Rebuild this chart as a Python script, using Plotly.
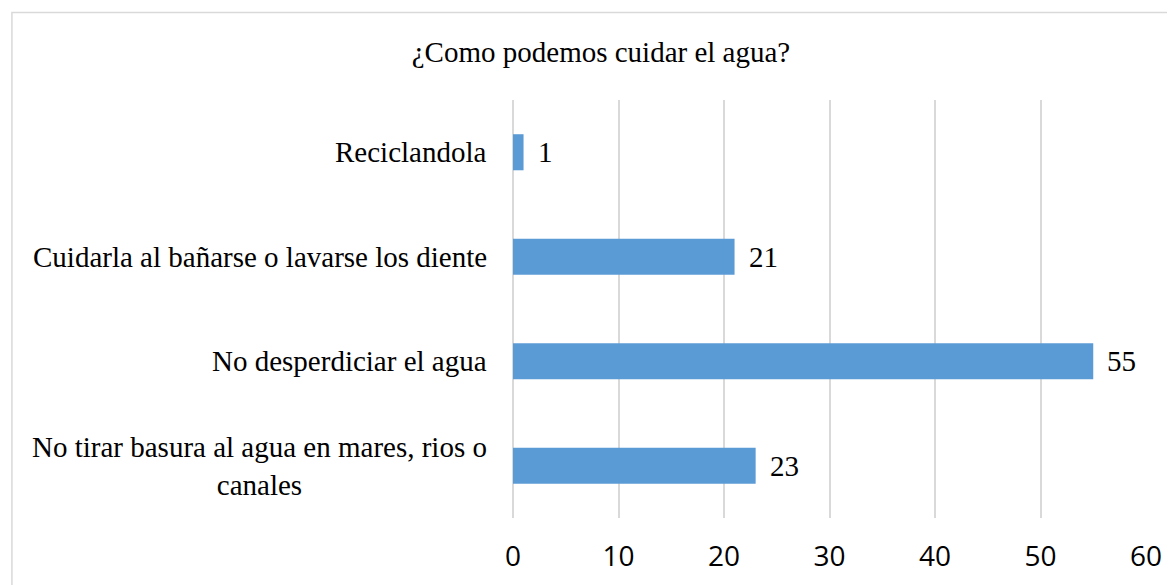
import plotly.graph_objects as go

# datos
categorias = [
    "Reciclandola",
    "Cuidarla al bañarse o lavarse los diente",
    "No desperdiciar el agua",
    "No tirar basura al agua en mares, rios o<br>canales",
]
valores = [1, 21, 55, 23]
ticks_x = [0, 10, 20, 30, 40, 50, 60]

SERIF = "Liberation Serif, Times New Roman, serif"
SANS = "Open Sans, Liberation Sans, sans-serif"

fig = go.Figure()
fig.add_trace(
    go.Bar(
        x=valores,
        y=categorias,
        orientation="h",
        width=0.345,
        marker=dict(color="#5B9BD5", line=dict(color="#5B9BD5", width=0)),
        hoverinfo="skip",
    )
)

# etiquetas de datos
for cat, val in zip(categorias, valores):
    fig.add_annotation(
        x=val, y=cat, xref="x", yref="y",
        text=str(val), showarrow=False,
        xanchor="left", yanchor="middle", xshift=12,
        font=dict(family=SERIF, size=29, color="black"),
    )

# etiquetas de categoria (centradas por linea, alineadas a la derecha)
for cat in categorias:
    fig.add_annotation(
        x=0, y=cat, xref="paper", yref="y",
        text=cat, showarrow=False, align="center",
        xanchor="right", yanchor="middle", xshift=-24,
        font=dict(family=SERIF, size=29, color="black"),
    )

# marco del grafico
fig.add_shape(
    type="rect", xref="paper", yref="paper",
    x0=-0.7916, x1=1.2, y0=-0.3, y1=1.2093,
    line=dict(color="#D9D9D9", width=1.5),
    fillcolor="rgba(0,0,0,0)", layer="below",
)

fig.update_layout(
    width=1175,
    height=585,
    margin=dict(l=505, r=36.5, t=92, b=75),
    paper_bgcolor="white",
    plot_bgcolor="white",
    showlegend=False,
    title=dict(
        text="¿Como podemos cuidar el agua?",
        xref="container", yref="container",
        x=593 / 1175, y=1 - 44 / 585,
        xanchor="center", yanchor="middle",
        font=dict(family=SERIF, size=29, color="black"),
    ),
    xaxis=dict(
        range=[0, 60],
        tickvals=ticks_x,
        showgrid=True,
        gridcolor="#D9D9D9",
        gridwidth=1.5,
        zeroline=True,
        zerolinecolor="#D9D9D9",
        zerolinewidth=1.5,
        showline=False,
        ticks="",
        ticklabelstandoff=19,
        tickfont=dict(family=SANS, size=28, color="black"),
    ),
    yaxis=dict(
        autorange="reversed",
        showticklabels=False,
        showgrid=False,
        zeroline=False,
        showline=False,
        ticks="",
    ),
)

fig.write_html("out.html")
